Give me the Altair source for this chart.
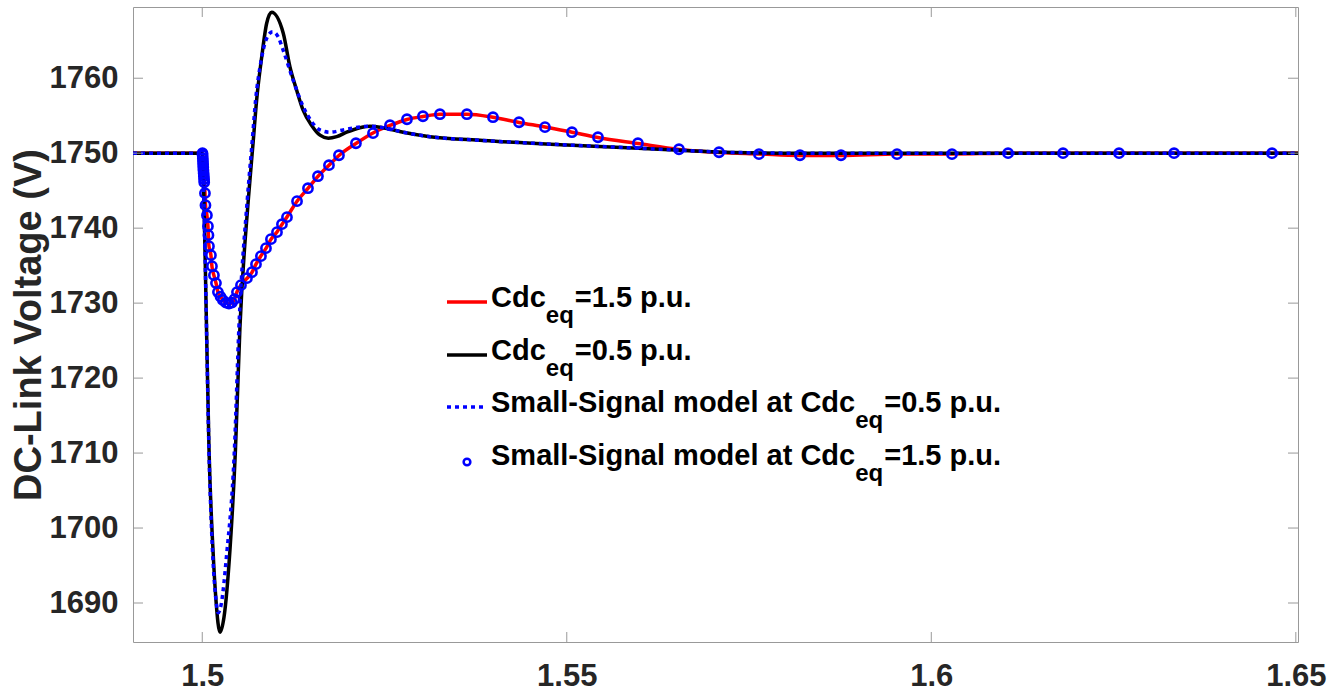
import altair as alt
import pandas as pd

# ---------------- data (time in s, DC-link voltage in V) ----------------
# Cdc_eq = 1.5 p.u. (simulation, red)
red_t = [1.4905, 1.5, 1.50005, 1.50012, 1.50019, 1.50027, 1.50037, 1.50044, 1.50064,
         1.50078, 1.50092, 1.50119, 1.50133, 1.5016, 1.50188, 1.50215, 1.5025, 1.50284,
         1.50325, 1.50366, 1.50407, 1.50442, 1.50476, 1.50531, 1.50613, 1.50682, 1.50737,
         1.50805, 1.50874, 1.50942, 1.51025, 1.51093, 1.51162, 1.513, 1.5145, 1.51587,
         1.51738, 1.51875, 1.52108, 1.52342, 1.52575, 1.52808, 1.53027, 1.5326, 1.5363,
         1.53988, 1.54345, 1.54701, 1.55071, 1.55428, 1.55976, 1.56539, 1.57088, 1.57636,
         1.58199, 1.58761, 1.5953, 1.60284, 1.61053, 1.6503]
red_v = [1750.0, 1750.0, 1749.7, 1748.5, 1747.3, 1746.1, 1744.7, 1743.1, 1741.7,
         1740.3, 1737.6, 1736.4, 1734.9, 1733.7, 1732.7, 1731.5, 1730.9, 1730.4,
         1730.1, 1729.9, 1730.1, 1730.5, 1731.5, 1732.4, 1733.3, 1734.1, 1735.2,
         1736.3, 1737.3, 1738.5, 1739.5, 1740.5, 1741.5, 1743.6, 1745.3, 1746.9,
         1748.4, 1749.7, 1751.3, 1752.7, 1753.7, 1754.5, 1754.9, 1755.2, 1755.2,
         1754.8, 1754.1, 1753.5, 1752.8, 1752.1, 1751.3, 1750.5, 1750.1, 1749.9,
         1749.7, 1749.7, 1749.9, 1749.9, 1750.0, 1750.0]

# Cdc_eq = 0.5 p.u. (simulation, black)
black_t = [1.4905, 1.5, 1.50023, 1.50051, 1.50092, 1.50147, 1.50188, 1.50243, 1.50298,
           1.5038, 1.50455, 1.50517, 1.50631, 1.507, 1.50746, 1.50815, 1.50883, 1.50952,
           1.51111, 1.51203, 1.51295, 1.51385, 1.51501, 1.51615, 1.51728, 1.51844, 1.51981,
           1.52163, 1.523, 1.52483, 1.52757, 1.53123, 1.53851, 1.55003, 1.55909, 1.56553,
           1.5728, 1.582, 1.6503]
black_v = [1750.0, 1750.0, 1743.7, 1730.4, 1710.7, 1697.1, 1690.4, 1686.1, 1688.1,
           1697.1, 1710.4, 1726.8, 1743.7, 1751.7, 1757.1, 1762.8, 1767.3, 1768.8,
           1766.0, 1761.5, 1758.4, 1755.7, 1753.7, 1752.4, 1752.0, 1752.2, 1752.8,
           1753.4, 1753.6, 1753.4, 1752.8, 1752.2, 1751.7, 1751.1, 1750.7, 1750.4,
           1750.1, 1750.0, 1750.0]

# Small-signal model at Cdc_eq = 0.5 p.u. (blue dotted)
ssm05_t = [1.4905, 1.5, 1.50023, 1.50051, 1.50092, 1.5014, 1.50181, 1.50219, 1.50257,
           1.50335, 1.50441, 1.50503, 1.50617, 1.50686, 1.50732, 1.50801, 1.50883, 1.50966,
           1.51042, 1.51111, 1.51248, 1.51385, 1.51501, 1.51615, 1.51752, 1.51934, 1.52163,
           1.523, 1.52483, 1.52757, 1.53123, 1.53851, 1.55003, 1.55909, 1.56553, 1.5728,
           1.582, 1.6503]
ssm05_v = [1750.0, 1750.0, 1743.7, 1730.4, 1710.4, 1697.1, 1691.1, 1688.7, 1689.7,
           1696.5, 1710.4, 1726.8, 1743.7, 1751.7, 1757.1, 1762.0, 1765.3, 1766.2,
           1765.5, 1763.7, 1759.7, 1756.2, 1754.2, 1753.1, 1752.8, 1753.1, 1753.5,
           1753.6, 1753.4, 1752.8, 1752.2, 1751.7, 1751.1, 1750.7, 1750.4, 1750.1,
           1750.0, 1750.0]

# Small-signal model at Cdc_eq = 1.5 p.u. (blue circles)
ssm15_t = [1.50003, 1.50005, 1.50008, 1.5001, 1.50012, 1.50014, 1.50016, 1.50019, 1.50022,
           1.50025, 1.50027, 1.50037, 1.50044, 1.50064, 1.50078, 1.50085, 1.50092, 1.50119,
           1.50133, 1.5016, 1.50188, 1.50215, 1.5025, 1.50284, 1.50325, 1.50366, 1.50407,
           1.50442, 1.50476, 1.50531, 1.50613, 1.50682, 1.50737, 1.50805, 1.50874, 1.50942,
           1.51025, 1.51093, 1.51162, 1.513, 1.5145, 1.51587, 1.51738, 1.51875, 1.52108,
           1.52342, 1.52575, 1.52808, 1.53027, 1.5326, 1.5363, 1.53988, 1.54345, 1.54701,
           1.55071, 1.55428, 1.55976, 1.56539, 1.57088, 1.57636, 1.58199, 1.58761, 1.5953,
           1.60284, 1.61053, 1.61807, 1.62575, 1.6333, 1.64674]
ssm15_v = [1750.0, 1749.73, 1749.33, 1748.93, 1748.53, 1748.13, 1747.73, 1747.33, 1746.93,
           1746.53, 1746.13, 1744.67, 1743.07, 1741.73, 1740.27, 1739.07, 1737.6, 1736.4,
           1734.93, 1733.73, 1732.67, 1731.47, 1730.87, 1730.4, 1730.07, 1729.93, 1730.07,
           1730.53, 1731.47, 1732.4, 1733.33, 1734.13, 1735.2, 1736.27, 1737.33, 1738.53,
           1739.47, 1740.53, 1741.47, 1743.6, 1745.33, 1746.93, 1748.4, 1749.73, 1751.33,
           1752.67, 1753.73, 1754.53, 1754.93, 1755.2, 1755.2, 1754.8, 1754.13, 1753.47,
           1752.8, 1752.13, 1751.33, 1750.53, 1750.13, 1749.87, 1749.73, 1749.73, 1749.87,
           1749.87, 1750.0, 1750.0, 1750.0, 1750.0, 1750.0]

x_ticks = [1.5, 1.55, 1.6, 1.65]
y_ticks = [1690, 1700, 1710, 1720, 1730, 1740, 1750, 1760]
x_domain = [1.4905, 1.6503]
y_domain = [1684.8, 1769.5]

legend_main = ["Cdc", "Cdc", "Small-Signal model at Cdc", "Small-Signal model at Cdc"]
legend_sub = ["eq", "eq", "eq", "eq"]
legend_tail = ["=1.5 p.u.", "=0.5 p.u.", "=0.5 p.u.", "=1.5 p.u."]

# ---------------- styling / layout ----------------
W, H = 1165, 635
FONT = "Liberation Sans"
AX = "#999999"
TXT = "#262626"
RED, BLACK, BLUE = "#ff0000", "#000000", "#0000ff"
LW = 3.5

xs = alt.Scale(domain=x_domain, nice=False, zero=False)
ys = alt.Scale(domain=y_domain, nice=False, zero=False)

xaxis = alt.Axis(values=x_ticks, format="~g", title=None, labelPadding=19,
                 labelFlush=False, labelOverlap=False)
yaxis = alt.Axis(values=y_ticks, format="d", title="DC-Link Voltage (V)",
                 labelPadding=15, titlePadding=1, titleFontSize=38,
                 labelOverlap=False)

X = alt.X("t:Q", scale=xs, axis=xaxis)
Y = alt.Y("v:Q", scale=ys, axis=yaxis)


def df(t, v):
    return pd.DataFrame({"t": t, "v": v})


red = alt.Chart(df(red_t, red_v)).mark_line(
    color=RED, strokeWidth=LW, interpolate="monotone", clip=True
).encode(x=X, y=Y)

black = alt.Chart(df(black_t, black_v)).mark_line(
    color=BLACK, strokeWidth=LW, interpolate="monotone", clip=True
).encode(x=X, y=Y)

blue_dot = alt.Chart(df(ssm05_t, ssm05_v)).mark_line(
    color=BLUE, strokeWidth=LW, strokeDash=[4, 4], strokeCap="butt",
    interpolate="monotone", clip=True
).encode(x=X, y=Y)

circles = alt.Chart(df(ssm15_t, ssm15_v)).mark_point(
    shape="circle", filled=False, color=BLUE, strokeWidth=2.6, size=85, opacity=1, clip=True
).encode(x=X, y=Y)

# inward ticks on all four sides (MATLAB box style)
xt = pd.DataFrame({"t": x_ticks})
yt = pd.DataFrame({"v": y_ticks})
TL = 10
tick_b = alt.Chart(xt).mark_rule(color=AX, strokeWidth=1).encode(
    x=X, y=alt.value(H), y2=alt.value(H - TL))
tick_t = alt.Chart(xt).mark_rule(color=AX, strokeWidth=1).encode(
    x=X, y=alt.value(0), y2=alt.value(TL))
tick_l = alt.Chart(yt).mark_rule(color=AX, strokeWidth=1).encode(
    y=Y, x=alt.value(0), x2=alt.value(TL))
tick_r = alt.Chart(yt).mark_rule(color=AX, strokeWidth=1).encode(
    y=Y, x=alt.value(W), x2=alt.value(W - TL))

# ---------------- legend (manual, with subscripts) ----------------
ARIAL_B = {" ": 278, "-": 333, ".": 278, "=": 584, "C": 722, "S": 667, "a": 556,
           "c": 556, "d": 611, "e": 556, "g": 611, "i": 278, "l": 278, "m": 889,
           "n": 611, "o": 611, "p": 611, "q": 611, "t": 333, "u": 611}
for ch in "0123456789":
    ARIAL_B[ch] = 556


def tw(s, fs):
    return sum(ARIAL_B.get(c, 556) for c in s) / 1000.0 * fs


FS_MAIN, FS_SUB = 29, 24
TX0 = 358
base_y = [300, 353, 405, 458]
sym_y = [b - 5 for b in base_y]
SX0, SX1 = 314, 354

one = pd.DataFrame({"k": [0]})
legend_layers = []
for m, s, tail, by in zip(legend_main, legend_sub, legend_tail, base_y):
    x1 = TX0 + tw(m, FS_MAIN)
    x2 = x1 + tw(s, FS_SUB) + 1
    for txt, px, py, fs in [(m, TX0, by, FS_MAIN), (s, x1, by + 16, FS_SUB),
                            (tail, x2, by, FS_MAIN)]:
        legend_layers.append(
            alt.Chart(one).mark_text(
                align="left", baseline="alphabetic", font=FONT, fontWeight="bold",
                color="#000000", fontSize=fs, text=txt
            ).encode(x=alt.value(px), y=alt.value(py))
        )

leg_red = alt.Chart(one).mark_rule(color=RED, strokeWidth=LW).encode(
    x=alt.value(SX0), x2=alt.value(SX1), y=alt.value(sym_y[0]))
leg_black = alt.Chart(one).mark_rule(color=BLACK, strokeWidth=LW).encode(
    x=alt.value(SX0), x2=alt.value(SX1), y=alt.value(sym_y[1]))
leg_blue = alt.Chart(one).mark_rule(color=BLUE, strokeWidth=LW, strokeDash=[4, 4],
                                    strokeCap="butt").encode(
    x=alt.value(SX0), x2=alt.value(SX1), y=alt.value(sym_y[2]))
leg_circ = alt.Chart(one).mark_point(shape="circle", filled=False, color=BLUE,
                                     strokeWidth=2.5, size=45, opacity=1).encode(
    x=alt.value((SX0 + SX1) / 2), y=alt.value(sym_y[3] + 2))

chart = alt.layer(
    red, black, blue_dot, circles,
    tick_b, tick_t, tick_l, tick_r,
    leg_red, leg_black, leg_blue, leg_circ, *legend_layers,
).properties(
    width=W, height=H,
    autosize=alt.AutoSizeParams(type="none"),
    padding={"left": 133, "top": 7, "right": 43, "bottom": 54},
    background="white",
).configure_view(
    stroke=AX, strokeWidth=1
).configure_axis(
    domain=False, ticks=False, grid=False,
    labelFont=FONT, labelFontSize=31, labelFontWeight="bold", labelColor=TXT,
    titleFont=FONT, titleFontWeight="bold", titleColor=TXT,
)

chart.save("out.html", embed_options={"renderer": "svg", "actions": False})
